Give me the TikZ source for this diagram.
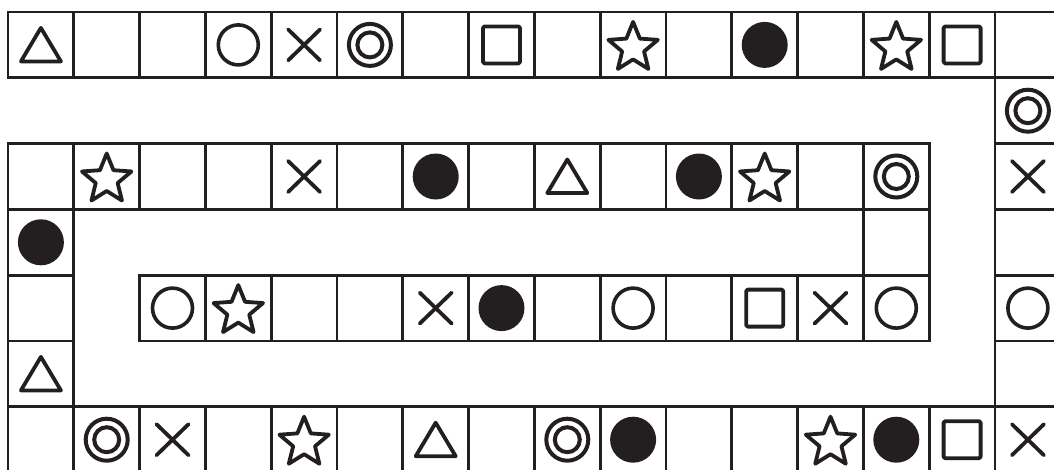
\documentclass[tikz,border=0pt]{standalone}
\definecolor{ink}{RGB}{35,31,32}
\tikzset{
  cell/.style={draw=ink, line width=2.8pt, minimum size=65.8pt, inner sep=0pt, outer sep=0pt},
  sym/.style={draw=ink, line width=3.8pt, line join=round, line cap=round},
  tri/.pic={\draw[sym] (0,-17) -- (20,16.5) -- (-20,16.5) -- cycle;},
  star/.pic={\draw[sym,shift={(0,3)}] (-90:26) -- (-54:11.5) -- (-18:26) -- (18:11.5) -- (54:26) -- (90:11.5) -- (126:26) -- (162:11.5) -- (198:26) -- (234:11.5) -- cycle;},
  circ/.pic={\draw[ink, line width=3.6pt] (0,0) circle[radius=20pt];},
  dcirc/.pic={\draw[ink, line width=4pt] (0,0) circle[radius=21pt] (0,0) circle[radius=12.5pt];},
  dot/.pic={\fill[ink] (0,0) circle[radius=23pt];},
  cross/.pic={\draw[sym] (-16,-15.5) -- (16,15.5) (-16,15.5) -- (16,-15.5);},
  sq/.pic={\draw[sym, rounded corners=1.5pt] (-18.5,-18.5) rectangle (18.5,18.5);}
}
\newcommand\mkcell[2]{\node[cell] (c#1-#2) at ({8+65.8*(#1+0.5)},{12+65.8*(#2+0.5)}) {};}
\begin{document}
\begin{tikzpicture}[x=1pt,y=-1pt]
\useasboundingbox (0,0) rectangle (1054,469);
\clip (0,0) rectangle (1054,469);
% row 0 and row 6
\foreach \c in {0,...,15} {\mkcell{\c}{0} \mkcell{\c}{6}}
% row 2
\foreach \c in {0,...,13} {\mkcell{\c}{2}}
% row 4
\foreach \c in {2,...,13} {\mkcell{\c}{4}}
% left column
\foreach \r in {3,4,5} {\mkcell{0}{\r}}
% col 13 link
\mkcell{13}{3}
% right column
\foreach \r in {1,...,5} {\mkcell{15}{\r}}
% symbols
\foreach \c/\r/\k in {0/0/tri,3/0/circ,4/0/cross,5/0/dcirc,7/0/sq,9/0/star,11/0/dot,13/0/star,14/0/sq,
  15/1/dcirc,
  1/2/star,4/2/cross,6/2/dot,8/2/tri,10/2/dot,11/2/star,13/2/dcirc,15/2/cross,
  0/3/dot,
  2/4/circ,3/4/star,6/4/cross,7/4/dot,9/4/circ,11/4/sq,12/4/cross,13/4/circ,15/4/circ,
  0/5/tri,
  1/6/dcirc,2/6/cross,4/6/star,6/6/tri,8/6/dcirc,9/6/dot,12/6/star,13/6/dot,14/6/sq,15/6/cross}
  {\pic at (c\c-\r) {\k};}
\end{tikzpicture}
\end{document}
